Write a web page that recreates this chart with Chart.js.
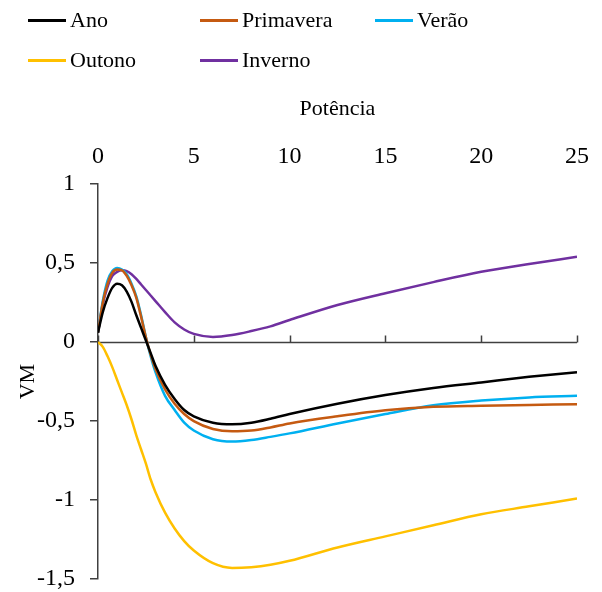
<!DOCTYPE html>
<html>
<head>
<meta charset="utf-8">
<script src="https://cdn.jsdelivr.net/npm/chart.js@4.4.0/dist/chart.umd.min.js"></script>
<style>
  html, body { margin: 0; padding: 0; background: #fff; }
  #wrap { position: relative; width: 602px; height: 592px; }
  #legend { position: absolute; left: 28px; top: 6px; display: grid;
            grid-template-columns: 172px 175px 150px; row-gap: 12px;
            font-family: 'Liberation Serif', 'Times New Roman', serif; font-size: 22px; color: #000; }
  #legend .item { display: flex; align-items: center; height: 28px; }
  #legend .line { width: 38px; height: 3px; margin-right: 4px; }
</style>
</head>
<body>
<div id="wrap">
  <canvas id="vmChart" width="602" height="592"></canvas>
  <div id="legend"></div>
</div>
<script>
// potência (eixo x)
var potencia = [0, 0.25, 0.5, 0.75, 1, 1.25, 1.5, 1.75, 2, 2.25, 2.5, 2.75, 3, 3.5, 4, 4.5, 5, 6, 7, 8, 9, 10, 12.5, 15, 17.5, 20, 22.5, 25];

var ano       = [0.06, 0.19, 0.28, 0.345, 0.37, 0.36, 0.32, 0.255, 0.17, 0.09, 0.01, -0.07, -0.15, -0.27, -0.36, -0.43, -0.47, -0.51, -0.52, -0.51, -0.485, -0.455, -0.39, -0.335, -0.29, -0.255, -0.22, -0.19];
var primavera = [0.06, 0.25, 0.37, 0.44, 0.46, 0.455, 0.42, 0.36, 0.28, 0.16, 0.03, -0.08, -0.17, -0.30, -0.39, -0.455, -0.50, -0.55, -0.565, -0.56, -0.54, -0.515, -0.47, -0.432, -0.41, -0.403, -0.398, -0.393];
var verao     = [0.06, 0.26, 0.39, 0.45, 0.47, 0.46, 0.43, 0.37, 0.29, 0.17, 0.03, -0.09, -0.19, -0.34, -0.43, -0.51, -0.56, -0.615, -0.63, -0.62, -0.60, -0.578, -0.515, -0.455, -0.40, -0.37, -0.35, -0.34];
var outono    = [0, -0.03, -0.09, -0.16, -0.24, -0.32, -0.40, -0.49, -0.59, -0.68, -0.77, -0.87, -0.95, -1.08, -1.18, -1.26, -1.32, -1.40, -1.43, -1.425, -1.41, -1.385, -1.30, -1.23, -1.16, -1.09, -1.04, -0.99];
var inverno   = [0.06, 0.24, 0.35, 0.42, 0.445, 0.455, 0.45, 0.43, 0.40, 0.365, 0.33, 0.295, 0.26, 0.19, 0.125, 0.08, 0.052, 0.033, 0.045, 0.07, 0.10, 0.14, 0.235, 0.31, 0.38, 0.445, 0.495, 0.54];

var seriesNames = ['Ano', 'Primavera', 'Verão', 'Outono', 'Inverno'];
var seriesData = [ano, primavera, verao, outono, inverno];
var seriesColors = ['#000000', '#C55A11', '#00B0F0', '#FFC000', '#7030A0'];

var yTicks = [1, 0.5, 0, -0.5, -1, -1.5];
var xTicks = [0, 5, 10, 15, 20, 25];

var fontFamily = "'Liberation Serif', 'Times New Roman', serif";

function toPoints(ys) {
    return potencia.map(function (x, i) { return { x: x, y: ys[i] }; });
}

var datasets = seriesNames.map(function (name, i) {
    return {
        label: name,
        data: toPoints(seriesData[i]),
        borderColor: seriesColors[i],
        backgroundColor: seriesColors[i],
        borderWidth: 2.5,
        pointRadius: 0,
        cubicInterpolationMode: 'monotone',
        fill: false
    };
});

// legenda em colunas como no original
var legendEl = document.getElementById('legend');
seriesNames.forEach(function (name, i) {
    var item = document.createElement('div');
    item.className = 'item';
    var ln = document.createElement('span');
    ln.className = 'line';
    ln.style.background = seriesColors[i];
    item.appendChild(ln);
    item.appendChild(document.createTextNode(name));
    legendEl.appendChild(item);
});

// eixo x desenhado em y = 0 com marcas para cima
var zeroAxis = {
    id: 'zeroAxis',
    beforeDatasetsDraw: function (chart) {
        var ctx = chart.ctx;
        var xs = chart.scales.x, ys = chart.scales.y;
        var y0 = Math.round(ys.getPixelForValue(0)) + 0.5;
        ctx.save();
        ctx.strokeStyle = '#404040';
        ctx.lineWidth = 1.5;
        ctx.beginPath();
        ctx.moveTo(xs.left, y0);
        ctx.lineTo(xs.right, y0);
        xTicks.forEach(function (t) {
            var px = Math.round(xs.getPixelForValue(t)) + 0.5;
            ctx.moveTo(px, y0);
            ctx.lineTo(px, y0 - 7);
        });
        ctx.stroke();
        ctx.restore();
    }
};

new Chart(document.getElementById('vmChart').getContext('2d'), {
    type: 'line',
    data: { datasets: datasets },
    options: {
        responsive: false,
        animation: false,
        layout: { padding: { top: 96, left: 0, right: 25, bottom: 0 } },
        plugins: {
            legend: { display: false },
            tooltip: { enabled: false }
        },
        scales: {
            x: {
                type: 'linear',
                position: 'top',
                min: 0,
                max: 25,
                afterBuildTicks: function (scale) {
                    scale.ticks = xTicks.map(function (v) { return { value: v }; });
                },
                grid: { display: false },
                border: { display: false },
                ticks: {
                    color: '#000',
                    padding: 5,
                    font: { family: fontFamily, size: 24 }
                },
                title: {
                    display: true,
                    text: 'Potência',
                    color: '#000',
                    padding: { top: 0, bottom: 15 },
                    font: { family: fontFamily, size: 22 }
                }
            },
            y: {
                min: -1.5,
                max: 1,
                afterBuildTicks: function (scale) {
                    scale.ticks = yTicks.map(function (v) { return { value: v }; });
                },
                afterFit: function (scale) {
                    scale.width = 98;
                    scale.paddingTop = 0;
                    scale.paddingBottom = 13;
                },
                grid: { drawOnChartArea: false, drawTicks: true, tickLength: 8, color: '#404040', lineWidth: 1.5 },
                border: { color: '#404040', width: 1.5 },
                ticks: {
                    color: '#000',
                    padding: 15,
                    font: { family: fontFamily, size: 24 },
                    callback: function (v) { return String(v).replace('.', ','); }
                },
                title: {
                    display: true,
                    text: 'VM',
                    color: '#000',
                    padding: { top: 15, bottom: 0 },
                    font: { family: fontFamily, size: 22 }
                }
            }
        }
    },
    plugins: [zeroAxis]
});
</script>
</body>
</html>
